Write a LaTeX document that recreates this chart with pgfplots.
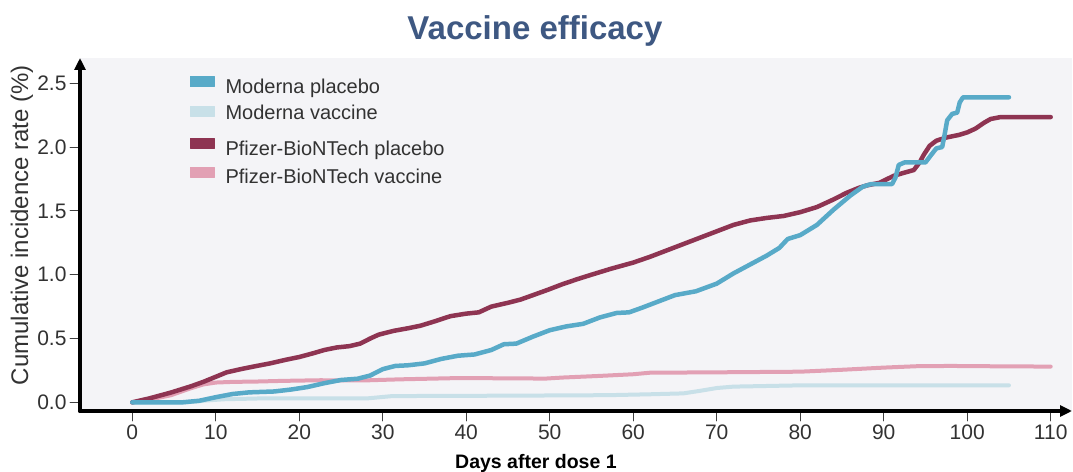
\documentclass[border=0pt]{standalone}
\usepackage{pgfplots}
\pgfplotsset{compat=1.18}
\usepackage{fontspec}
\setmainfont{Liberation Sans}
\usetikzlibrary{arrows.meta}
\definecolor{mblue}{RGB}{88,170,200}
\definecolor{mlight}{RGB}{200,224,232}
\definecolor{pred}{RGB}{142,52,82}
\definecolor{ppink}{RGB}{226,160,180}
\definecolor{bgg}{RGB}{244,244,247}
\definecolor{tblue}{RGB}{62,88,130}
\definecolor{txt}{RGB}{50,50,50}

\pgfplotstableread{
x y
0 0
3 0
6 0
8 0.012
10 0.04
12 0.065
14 0.078
17 0.085
19 0.1
21 0.12
23 0.15
25 0.175
27 0.185
28.5 0.21
30 0.26
31.5 0.285
33 0.29
35 0.305
37 0.34
39 0.365
41 0.375
43 0.41
44.5 0.455
46 0.46
48 0.515
50 0.565
52 0.595
54 0.615
56 0.665
58 0.7
59.5 0.705
61 0.74
63 0.79
65 0.84
67.5 0.87
70 0.93
72 1.01
74 1.08
76 1.15
77.5 1.21
78.5 1.28
80 1.31
82 1.39
84 1.51
86 1.62
87.5 1.69
88.5 1.71
91 1.71
91.4 1.76
91.8 1.86
92.5 1.88
95 1.88
95.7 1.94
96.3 1.99
97 2.0
97.3 2.1
97.6 2.21
98.2 2.26
98.8 2.27
99.1 2.35
99.5 2.39
105 2.39
}\modplacebo

\pgfplotstableread{
x y
0 0
6.5 0
9 0.015
11 0.024
15 0.03
28 0.03
31 0.048
35 0.05
45 0.052
57 0.056
62 0.063
66 0.07
68 0.09
70 0.112
72 0.123
76 0.128
80 0.133
105 0.133
}\modvaccine

\pgfplotstableread{
x y
0 0
2 0.03
4.6 0.076
7 0.125
8.5 0.16
10 0.2
11.3 0.235
13 0.26
14.5 0.28
16.5 0.305
18.5 0.335
20 0.355
21.7 0.385
23 0.41
24.5 0.43
26 0.44
27.3 0.46
28.5 0.5
29.5 0.53
31.3 0.56
33 0.58
34.5 0.6
36 0.63
38.1 0.675
40 0.695
41.5 0.705
43 0.75
45 0.78
46.5 0.805
48 0.84
49.7 0.88
51.5 0.925
53.3 0.965
55 1.0
57.3 1.046
60 1.095
62 1.14
64 1.19
66 1.24
68 1.29
70 1.34
72 1.39
74 1.425
76 1.445
78 1.46
80 1.49
82 1.53
84 1.59
85.5 1.64
87 1.68
88 1.70
89.5 1.72
91.2 1.775
92.5 1.80
93.6 1.82
94.3 1.88
94.8 1.94
95.5 2.01
96.3 2.05
97.5 2.075
99 2.095
100 2.115
101 2.145
102 2.19
102.8 2.22
104 2.235
110 2.235
}\pfzplacebo

\pgfplotstableread{
x y
0 0
2 0.02
4.6 0.055
7 0.11
8.5 0.14
10 0.155
12 0.16
15 0.163
18 0.168
22.5 0.173
28 0.172
32 0.18
39 0.19
45 0.188
49.5 0.186
51.5 0.194
56 0.207
60 0.22
62 0.232
70 0.235
80 0.24
85 0.255
90 0.272
94 0.283
98 0.285
104 0.282
110 0.28
}\pfzvaccine

\begin{document}
\begin{tikzpicture}
\path[use as bounding box] (0,0) rectangle (1073bp,472bp);
\begin{axis}[
  at={(80bp,61bp)}, anchor=south west,
  scale only axis, width=992bp, height=353bp,
  xmin=-6.26, xmax=112.55, ymin=-0.068, ymax=2.698,
  axis lines=left,
  axis line style={line width=4bp, black, -{Triangle[length=12bp,width=11bp]}},
  axis background/.style={fill=bgg},
  xtick={0,10,...,110},
  ytick={0,0.5,1,1.5,2,2.5},
  tick align=outside,
  major tick length=10bp,
  major tick style={line width=0.8bp, black!75},
  /pgf/number format/assume math mode=true,
  yticklabel style={/pgf/number format/.cd, fixed, fixed zerofill, precision=1},
  ticklabel style={font=\fontsize{21bp}{25bp}\selectfont, text=txt},
  title={Vaccine efficacy},
  title style={at={(axis cs:48.23,2.839)}, anchor=base, yshift=-5.5bp, inner sep=0pt, font=\bfseries\fontsize{33bp}{40bp}\selectfont, text=tblue},
  xlabel={Days after dose 1},
  xlabel style={at={(axis cs:48.35,-0.515)}, anchor=base, inner sep=0pt, font=\bfseries\fontsize{19.5bp}{24bp}\selectfont, text=black},
  ylabel={Cumulative incidence rate (\%)},
  ylabel style={at={(axis cs:-12.46,1.389)}, anchor=base, rotate=0, inner sep=0pt, font=\fontsize{24bp}{28bp}\selectfont, text=txt},
  legend style={at={(axis cs:6.91,2.555)}, anchor=north west, draw=none, fill=none, inner sep=0pt,
    row sep=7.6bp, column sep=11bp, font=\fontsize{20bp}{24bp}\selectfont, text=txt,
    nodes={inner sep=0pt, text height=14bp, text depth=4bp}},
  legend cell align=left,
  legend image code/.code={\fill[#1] (0bp,2bp) rectangle (24bp,12bp);},
  line join=round, line cap=round,
]
\addplot[forget plot, mlight, line width=4bp] table {\modvaccine};
\addplot[forget plot, ppink, line width=4bp] table {\pfzvaccine};
\addplot[forget plot, pred, line width=4.5bp] table {\pfzplacebo};
\addplot[forget plot, mblue, line width=4.5bp] table {\modplacebo};
\addlegendimage{mblue}
\addlegendentry{Moderna placebo}
\addlegendimage{mlight}
\addlegendentry[text depth=11bp]{Moderna vaccine}
\addlegendimage{pred}
\addlegendentry{Pfizer-BioNTech placebo}
\addlegendimage{ppink}
\addlegendentry{Pfizer-BioNTech vaccine}
\end{axis}
\end{tikzpicture}
\end{document}
